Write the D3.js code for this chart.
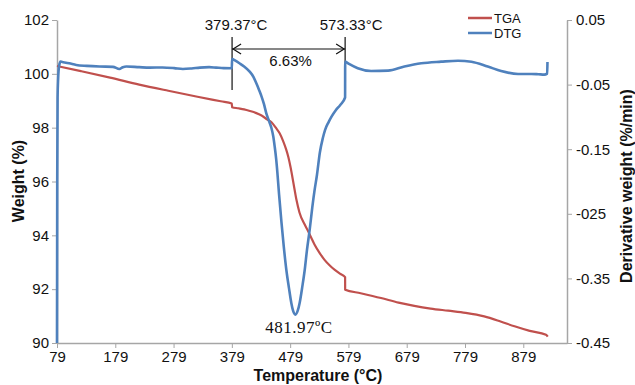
<!DOCTYPE html>
<html>
<head>
<meta charset="utf-8">
<script src="https://cdn.jsdelivr.net/npm/d3@7"></script>
<style>
  body { margin: 0; background: #fff; }
  svg text { font-family: "Liberation Sans", Arial, sans-serif; fill: #111; }
</style>
</head>
<body>
<svg id="chart"></svg>
<script>
// temperature (°C), weight (%)
const tgaData = [
  [79, 100.29], [120, 100.1], [170, 99.86], [220, 99.6], [270, 99.37], [320, 99.15],
  [360, 98.98], [378.9, 98.9], [379.4, 98.76], [390, 98.72], [400, 98.68], [410, 98.62],
  [420, 98.55], [430, 98.45], [440, 98.3], [447, 98.2], [455, 97.98], [461, 97.79],
  [467, 97.5], [472, 97.2], [476, 96.9], [480, 96.5], [485, 95.9], [490, 95.3],
  [495, 94.85], [504, 94.4], [509.5, 94.17], [515, 93.92], [521, 93.65], [530, 93.33],
  [538, 93.09], [547, 92.88], [555.6, 92.72], [565, 92.57], [573.3, 92.45], [573.4, 91.98],
  [600, 91.85], [635, 91.67], [665, 91.5], [692, 91.38], [720, 91.28], [750, 91.2],
  [780, 91.12], [812, 90.99], [840, 90.8], [864, 90.62], [890, 90.45], [918, 90.31], [921, 90.24]
];
// temperature (°C), derivative weight (%/min)
const dtgData = [
  [79, -0.45], [79.4, -0.2], [80, -0.07], [81, -0.04], [82.5, -0.022], [85, -0.0145],
  [88, -0.015], [100, -0.017], [112, -0.0196], [130, -0.021], [152, -0.022], [175, -0.0225],
  [186, -0.0258], [192, -0.023], [198, -0.022], [220, -0.023], [238, -0.0237], [260, -0.0235],
  [280, -0.0245], [295, -0.0258], [310, -0.025], [324, -0.0237], [340, -0.023], [352, -0.0237],
  [365, -0.0245], [378.9, -0.0247], [379.4, -0.0103], [385, -0.013], [392, -0.017], [400, -0.022],
  [409.6, -0.03], [416, -0.038], [421, -0.048], [426, -0.059], [430, -0.0686], [434, -0.08],
  [438, -0.094], [443, -0.107], [447, -0.1175], [450, -0.13], [452.5, -0.146], [455, -0.165],
  [457, -0.185], [460, -0.22], [464, -0.262], [468, -0.3], [472.5, -0.337], [477, -0.365],
  [481, -0.388], [484, -0.4], [488, -0.406], [492, -0.4], [495.3, -0.388], [500, -0.362],
  [504, -0.337], [508, -0.305], [512.5, -0.275], [517, -0.24], [521, -0.213], [525, -0.19],
  [530, -0.155], [535, -0.133], [539, -0.12], [545, -0.108], [550, -0.0995], [557, -0.09],
  [565, -0.0815], [573.3, -0.07], [573.4, -0.0145], [580, -0.018], [595, -0.0247], [618, -0.0289],
  [647, -0.0284], [675, -0.022], [704, -0.017], [738, -0.0145], [767, -0.013], [790, -0.0145],
  [818, -0.022], [841, -0.029], [870, -0.0335], [893, -0.0335], [905, -0.034], [915, -0.0345],
  [920, -0.033], [920.5, -0.015]
];

const xTicks = [79, 179, 279, 379, 479, 579, 679, 779, 879];
const leftTicks = [90, 92, 94, 96, 98, 100, 102];
const rightTicks = [0.05, -0.05, -0.15, -0.25, -0.35, -0.45];
const rightLabels = ["0.05", "-0.05", "-0.15", "-025", "-0.35", "-0.45"];

const onsetT = 379.37, endT = 573.33, peakT = 481.97, lossPct = "6.63%";

let W = 635, H = 385;
let margin = { top: 20, right: 68, bottom: 42, left: 57 };

let x = d3.scaleLinear().domain([79, 954]).range([margin.left, W - margin.right]);
let yL = d3.scaleLinear().domain([90, 102]).range([H - margin.bottom, margin.top]);
let yR = d3.scaleLinear().domain([-0.45, 0.05]).range([H - margin.bottom, margin.top]);

let svg = d3.select("#chart").attr("width", W).attr("height", H);

const axisColor = "#a6a6a6";
function styleAxis(g) {
  g.select(".domain").attr("stroke", axisColor).attr("stroke-width", 1.5);
  g.selectAll(".tick line").attr("stroke", axisColor).attr("stroke-width", 1);
  g.selectAll(".tick text").style("font-size", "15px").attr("fill", "#111");
}

// XAxis
svg.append("g")
  .attr("transform", "translate(0," + (H - margin.bottom) + ")")
  .call(d3.axisBottom(x).tickValues(xTicks).tickSize(5).tickSizeOuter(0).tickPadding(3))
  .call(styleAxis);

// YAxis left
svg.append("g")
  .attr("transform", "translate(" + margin.left + ",0)")
  .call(d3.axisLeft(yL).tickValues(leftTicks).tickSize(5).tickSizeOuter(0).tickPadding(3))
  .call(styleAxis);

// YAxis right
svg.append("g")
  .attr("transform", "translate(" + (W - margin.right) + ",0)")
  .call(d3.axisRight(yR).tickValues(rightTicks).tickSize(5).tickSizeOuter(0).tickPadding(4)
    .tickFormat((d, i) => rightLabels[i]))
  .call(styleAxis);

// axis titles
svg.append("text")
  .attr("x", (margin.left + W - margin.right) / 2 + 6).attr("y", 381)
  .attr("text-anchor", "middle")
  .style("font-size", "16px").style("font-weight", "bold")
  .text("Temperature (°C)");

svg.append("text")
  .attr("transform", "translate(18,181) rotate(-90)")
  .attr("text-anchor", "middle").attr("dominant-baseline", "central")
  .style("font-size", "16px").style("font-weight", "bold")
  .text("Weight (%)");

svg.append("text")
  .attr("transform", "translate(626,186) rotate(-90)")
  .attr("text-anchor", "middle").attr("dominant-baseline", "central")
  .style("font-size", "16px").style("font-weight", "bold")
  .text("Derivative weight (%/min)");

// lines
let lineL = d3.line().curve(d3.curveMonotoneX).x(d => x(d[0])).y(d => yL(d[1]));
let lineR = d3.line().curve(d3.curveMonotoneX).x(d => x(d[0])).y(d => yR(d[1]));

// annotation verticals
const annTop = 37, arrowY = 49;
svg.append("line")
  .attr("x1", x(onsetT)).attr("x2", x(onsetT))
  .attr("y1", annTop).attr("y2", 90)
  .attr("stroke", "#111").attr("stroke-width", 1.2);
svg.append("line")
  .attr("x1", x(endT)).attr("x2", x(endT))
  .attr("y1", annTop).attr("y2", 95)
  .attr("stroke", "#111").attr("stroke-width", 1.2);

svg.append("path")
  .datum(tgaData)
  .attr("d", lineL)
  .attr("fill", "none")
  .attr("stroke", "#c0504d")
  .attr("stroke-width", 2.2)
  .attr("stroke-linejoin", "round");

svg.append("path")
  .datum(dtgData)
  .attr("d", lineR)
  .attr("fill", "none")
  .attr("stroke", "#4f81bd")
  .attr("stroke-width", 2.6)
  .attr("stroke-linejoin", "round");

// double arrow
let ax1 = x(onsetT), ax2 = x(endT);
svg.append("line")
  .attr("x1", ax1).attr("x2", ax2).attr("y1", arrowY).attr("y2", arrowY)
  .attr("stroke", "#111").attr("stroke-width", 1.2);
svg.append("path")
  .attr("d", `M${ax1 + 9},${arrowY - 5}L${ax1 + 1},${arrowY}L${ax1 + 9},${arrowY + 5}`)
  .attr("fill", "none").attr("stroke", "#111").attr("stroke-width", 1.2);
svg.append("path")
  .attr("d", `M${ax2 - 9},${arrowY - 5}L${ax2 - 1},${arrowY}L${ax2 - 9},${arrowY + 5}`)
  .attr("fill", "none").attr("stroke", "#111").attr("stroke-width", 1.2);

svg.append("text")
  .attr("x", (ax1 + ax2) / 2 + 2).attr("y", 66)
  .attr("text-anchor", "middle").style("font-size", "15px")
  .text(lossPct);
svg.append("text")
  .attr("x", ax1 + 4).attr("y", 30)
  .attr("text-anchor", "middle").style("font-size", "15px")
  .text(onsetT.toFixed(2) + "°C");
svg.append("text")
  .attr("x", ax2 + 6).attr("y", 30)
  .attr("text-anchor", "middle").style("font-size", "15px")
  .text(endT.toFixed(2) + "°C");

svg.append("text")
  .attr("x", x(peakT) + 7).attr("y", 333)
  .attr("text-anchor", "middle")
  .style("font-family", "'Liberation Serif', 'Times New Roman', serif")
  .style("font-size", "17px").style("letter-spacing", "0.5px")
  .attr("fill", "#222")
  .text(peakT.toFixed(2) + "ºC");

// legend
const legend = [["TGA", "#c0504d"], ["DTG", "#4f81bd"]];
let lg = svg.append("g").attr("transform", "translate(468,18)");
legend.forEach((d, i) => {
  lg.append("line")
    .attr("x1", 0).attr("x2", 24).attr("y1", i * 15).attr("y2", i * 15)
    .attr("stroke", d[1]).attr("stroke-width", 2.5);
  lg.append("text")
    .attr("x", 26).attr("y", i * 15).attr("dy", "0.35em")
    .style("font-size", "13px")
    .text(d[0]);
});
</script>
</body>
</html>
